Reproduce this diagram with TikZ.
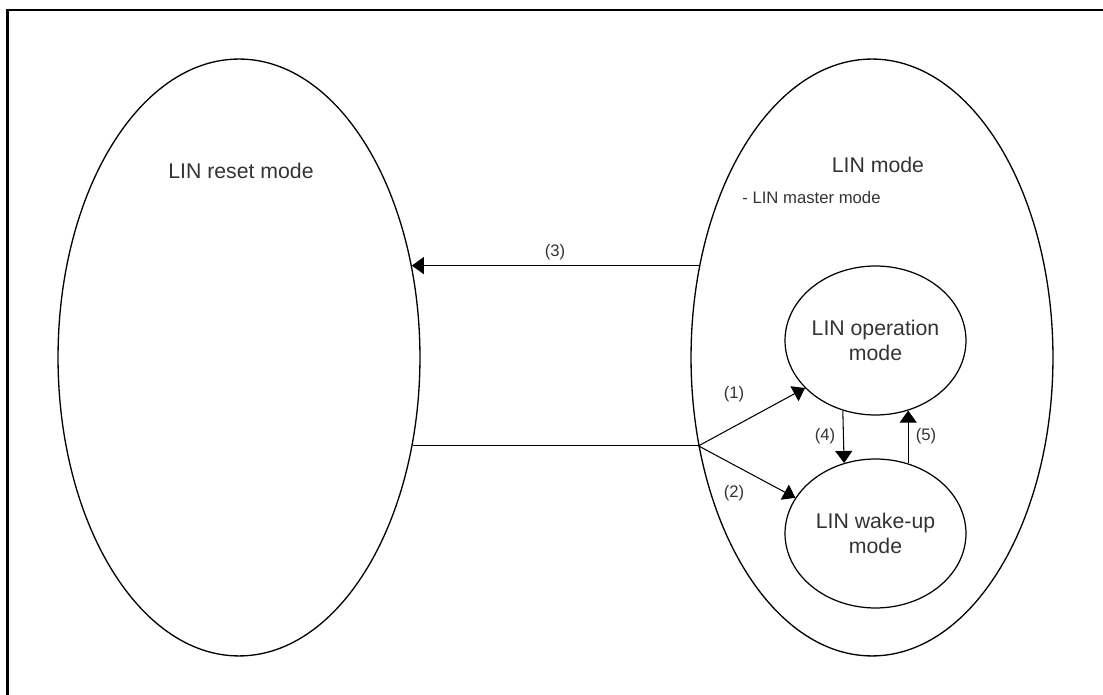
\documentclass[tikz,border=0pt]{standalone}
\usepackage{fontspec}
\setmainfont{Liberation Sans}
\usetikzlibrary{shapes.geometric,arrows.meta}
\begin{document}
\begin{tikzpicture}[x=0.02cm,y=-0.02cm,
  big/.style={draw,ellipse,line width=0.75pt,inner sep=0pt,minimum width=7.24cm,minimum height=11.94cm},
  small/.style={draw,ellipse,line width=0.7pt,inner sep=0pt,minimum width=3.62cm,minimum height=2.98cm,
     align=center,font=\fontsize{12.1}{14.2}\selectfont,text=black!80},
  title/.style={font=\fontsize{12.1}{14.2}\selectfont,text=black!80,inner sep=0pt},
  lbl/.style={font=\fontsize{9.5}{11}\selectfont,text=black!80,inner sep=0pt},
  conn/.style={line width=0.6pt,-{Triangle[length=0.24cm,width=0.34cm]}},
  plain/.style={line width=0.6pt}]
\useasboundingbox (0,0) rectangle (1103,695);
\draw[line width=1.2pt] (7.5,695) -- (7.5,10) -- (1103,10);
\node[big] (L) at (239,357.5) {};
\node[big] (R) at (872,357.5) {};
\node[small] (op) at (875.5,340.5) {LIN operation\\mode};
\node[small] (wk) at (875.5,533.5) {LIN wake-up\\mode};
\node[title] (tL) at (241,171) {LIN reset mode};
\node[title] (tR) at (878,165) {LIN mode};
\node[lbl,anchor=west] (sub) at (742,198) {- LIN master mode};
\coordinate (J) at (R.207.1);
\draw[conn] (R.152) -- (L.28);
\draw[plain] (L.-27.1) -- (J);
\draw[conn] (J) -- (op.214);
\draw[conn] (J) -- (wk.156.4);
\draw[conn] (op.245.7) -- (wk.114.3);
\draw[conn] (wk.65.7) -- (op.-65.7);
\node[lbl] (l3) at (555,252) {(3)};
\node[lbl] (l1) at (734,394) {(1)};
\node[lbl] (l2) at (734,493) {(2)};
\node[lbl] (l4) at (825,436) {(4)};
\node[lbl] (l5) at (926,436) {(5)};
\end{tikzpicture}
\end{document}
